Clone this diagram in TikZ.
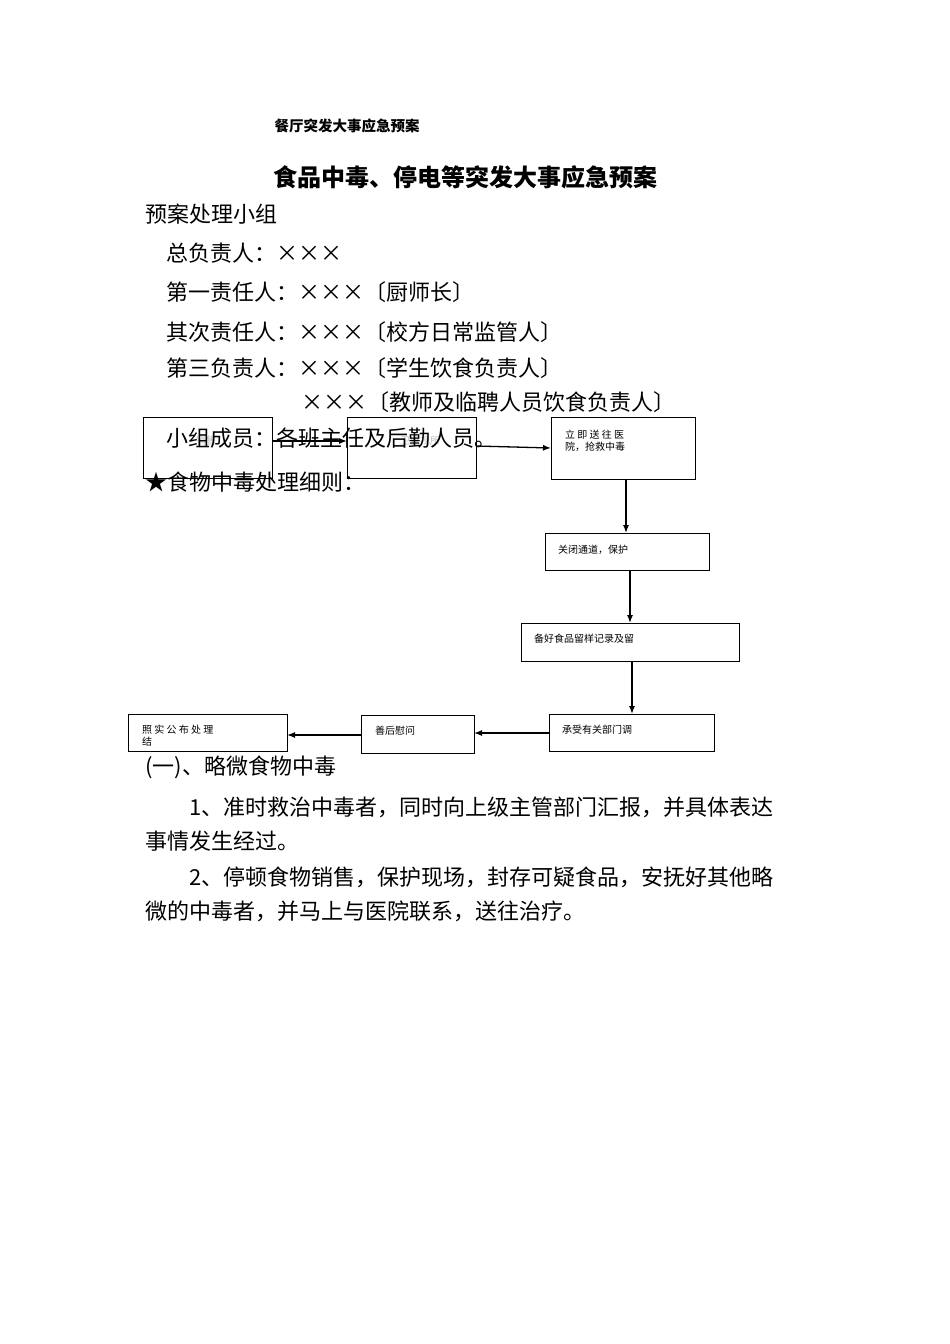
\documentclass[tikz,border=0pt]{standalone}
\usepackage{fontspec}
\setmainfont{Noto Sans CJK SC}
\usetikzlibrary{arrows.meta}
\begin{document}
\begin{tikzpicture}[x=1pt,y=-1pt,
 bx/.style={draw,line width=1pt},
 bt/.style={anchor=north west,font=\fontsize{10}{12}\selectfont,inner sep=0pt,align=left},
 tx/.style={anchor=west,font=\fontsize{22}{26}\selectfont,inner sep=0pt},
 ar/.style={-{Latex[length=8pt,width=6pt]},line width=1.3pt}]
\useasboundingbox (0,0) rectangle (950,1344);
\node[font=\fontsize{14.5}{16}\selectfont\bfseries] (h) at (347,126) {餐厅突发大事应急预案};
\node[font=\fontsize{24}{28}\selectfont\bfseries] (t) at (465,177) {食品中毒、停电等突发大事应急预案};
% flowchart boxes
\draw[bx] (143,417) rectangle (272,478);
\draw[bx] (347,417) rectangle (476,478);
\draw[bx] (551,417) rectangle (695,479);
\draw[bx] (545,533) rectangle (709,570);
\draw[bx] (521,623) rectangle (739,661);
\draw[bx] (549,714) rectangle (714,751);
\draw[bx] (361,715) rectangle (474,753);
\draw[bx] (128,714) rectangle (287,751);
\node[bt,text=black!25] (t1) at (196,436) {销售};
\node[bt,text=black!25] (t2) at (400,436) {卫监视所};
\node[bt] (t3) at (565,430) {立 即 送 往 医\\院，抢救中毒};
\node[bt] (t4) at (558,545) {关闭通道，保护};
\node[bt] (t5) at (534,634) {备好食品留样记录及留};
\node[bt] (t6) at (562,725) {承受有关部门调};
\node[bt] (t7) at (375,726) {善后慰问};
\node[bt] (t8) at (142,725) {照 实 公 布 处 理\\结};
\coordinate (a1) at (272,441); \coordinate (a2) at (347,441);
\draw[ar] (a1) -- (a2);
\coordinate (a3) at (476,446); \coordinate (a4) at (551,448);
\draw[ar] (a3) -- (a4);
\coordinate (a5) at (626,479); \coordinate (a6) at (626,533);
\draw[ar] (a5) -- (a6);
\coordinate (a7) at (630,570); \coordinate (a8) at (630,623);
\draw[ar] (a7) -- (a8);
\coordinate (a9) at (632,661); \coordinate (a10) at (632,714);
\draw[ar] (a9) -- (a10);
\coordinate (a11) at (549,733); \coordinate (a12) at (474,733);
\draw[ar] (a11) -- (a12);
\coordinate (a13) at (361,735); \coordinate (a14) at (287,735);
\draw[ar] (a13) -- (a14);
% body text
\node[tx] (l1) at (145,214) {预案处理小组};
\node[tx] (l2) at (166,253) {总负责人：×××};
\node[tx] (l3) at (166,292) {第一责任人：×××〔厨师长〕};
\node[tx] (l4) at (166,332) {其次责任人：×××〔校方日常监管人〕};
\node[tx] (l5) at (166,368) {第三负责人：×××〔学生饮食负责人〕};
\node[tx] (l6) at (301,402) {×××〔教师及临聘人员饮食负责人〕};
\node[tx] (l7) at (166,438) {小组成员：各班主任及后勤人员。};
\node[tx] (l8) at (145,482) {★食物中毒处理细则：};
\node[tx] (l9) at (145,767) {(一)、略微食物中毒};
\node[tx] (p1) at (189,807) {1、准时救治中毒者，同时向上级主管部门汇报，并具体表达};
\node[tx] (p2) at (145,841) {事情发生经过。};
\node[tx] (p3) at (189,877) {2、停顿食物销售，保护现场，封存可疑食品，安抚好其他略};
\node[tx] (p4) at (145,911) {微的中毒者，并马上与医院联系，送往治疗。};
\end{tikzpicture}
\end{document}
